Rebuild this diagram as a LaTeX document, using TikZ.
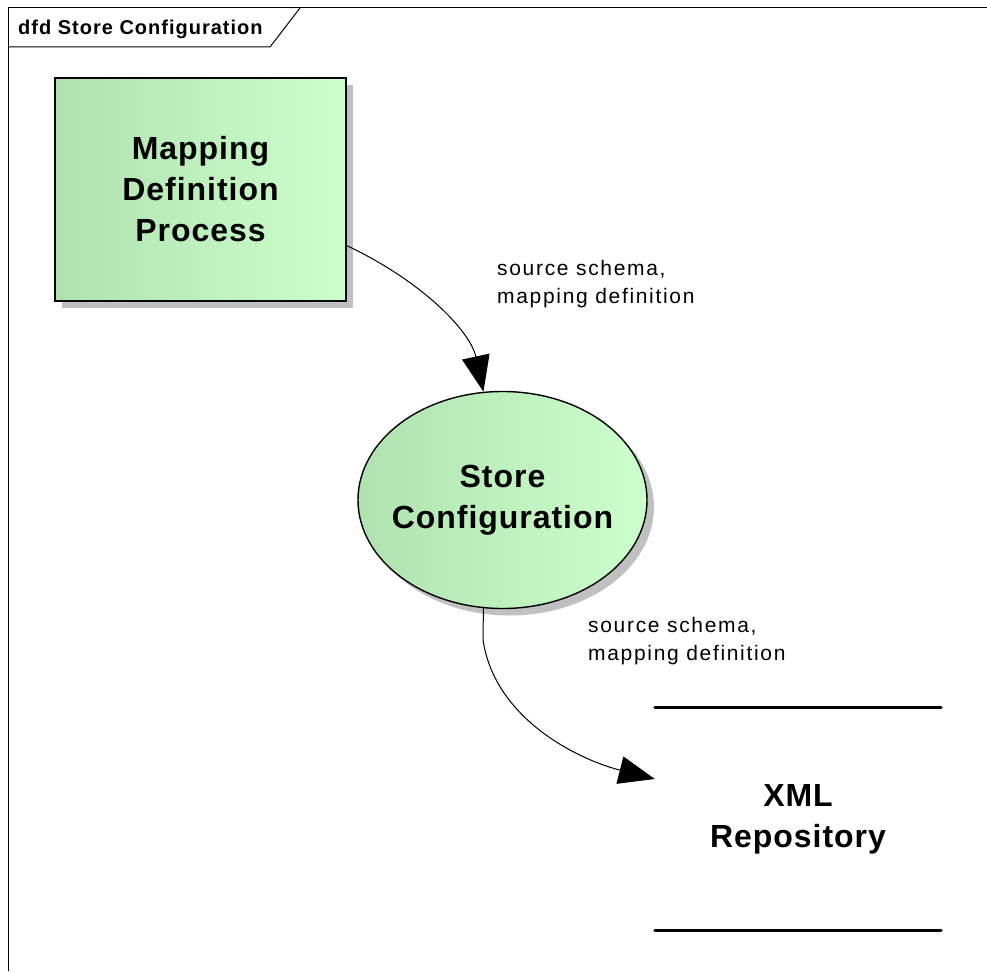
\documentclass[tikz,border=0pt]{standalone}
\usepackage{fontspec}
\setmainfont{Liberation Sans}
\usetikzlibrary{shapes.geometric,shadows,arrows.meta,calc}

\definecolor{dfdleft}{RGB}{176,226,176}
\definecolor{dfdright}{RGB}{204,255,204}
\definecolor{dfdshadow}{RGB}{192,192,192}

\begin{document}
\begin{tikzpicture}[x=1pt,y=-1pt]
  \def\shadowoff{7pt}
  \tikzstyle{bigtext} = [font=\fontsize{32}{41}\selectfont\bfseries\addfontfeatures{LetterSpace=3}, align=center]
  \tikzstyle{dfdshade} = [draw, line width=1.4pt, left color=dfdleft, right color=dfdright, drop shadow={shadow xshift=\shadowoff, shadow yshift=-\shadowoff, fill=dfdshadow, opacity=1}]
  \tikzstyle{process} = [rectangle, dfdshade, bigtext, minimum width=291pt, minimum height=223pt]
  \tikzstyle{bubble} = [ellipse, dfdshade, bigtext, inner xsep=-35pt, minimum width=289pt, minimum height=217pt]
  \tikzstyle{datastore} = [rectangle, bigtext, minimum width=286pt, minimum height=222pt]
  \tikzstyle{flow} = [line width=1pt, -{Triangle[length=36pt, width=28pt]}]
  \tikzstyle{flowlabel} = [anchor=north west, inner sep=0pt, align=left, font=\fontsize{21}{28}\selectfont\addfontfeatures{LetterSpace=8}]

  \useasboundingbox (0,0) rectangle (987,971);

  % diagram frame and name tab
  \draw[line width=1pt] (987,8) -- (8,8) -- (8,971);
  \draw[line width=1pt] (8,47) -- (270,47) -- (300,8);
  \node[anchor=base west, inner sep=0pt, font=\fontsize{20}{23}\selectfont\bfseries\addfontfeatures{LetterSpace=5}] (title) at (18,35) {dfd Store Configuration};

  % processes and store
  \node[process] (mdp) at (200.5,189.5) {Mapping\\Definition\\Process};
  \node[bubble] (sc) at (502.5,500) {Store\\Configuration};
  \node[datastore] (xml) at (798,819) {XML\\Repository};
  \draw[line width=3pt, line cap=round] (xml.north west) -- (xml.north east);
  \draw[line width=3pt, line cap=round] (xml.south west) -- (xml.south east);

  % data flows
  \draw[flow] ($(mdp.north east)!0.75!(mdp.south east)$) .. controls (420,280) and (470,330) .. (sc.100);
  \draw[flow] (sc.260) -- (483,640) .. controls (495,720) and (580,760) .. ($(xml.north west)!0.32!(xml.south west)$);

  \node[flowlabel] (srcmap1) at (497,260) {source schema,\\mapping definition};
  \node[flowlabel] (srcmap2) at (588,617) {source schema,\\mapping definition};
\end{tikzpicture}
\end{document}
